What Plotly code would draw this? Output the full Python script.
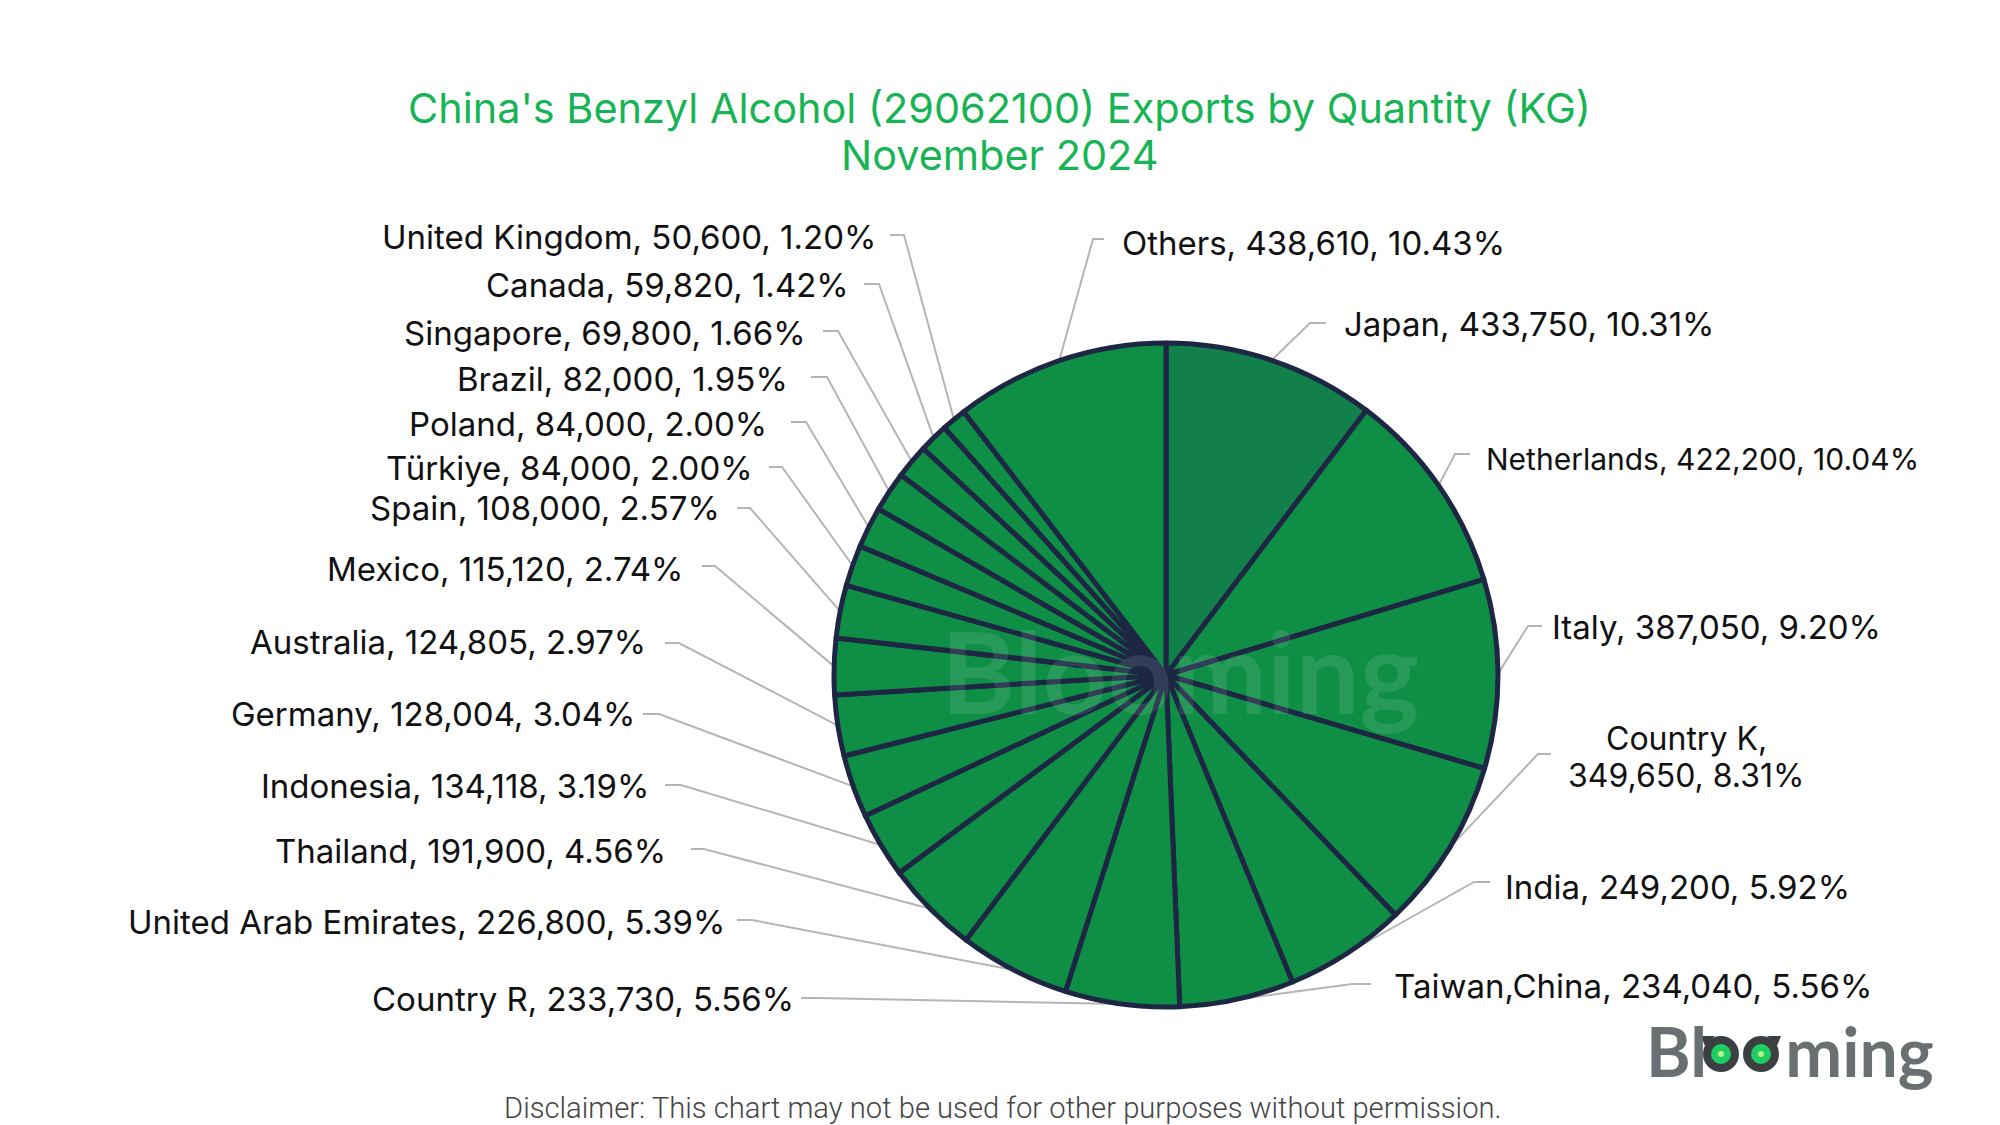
import math
import plotly.graph_objects as go

W, H = 2000, 1125

countries = ["Japan", "Netherlands", "Italy", "Country K", "India", "Taiwan,China", "Country R",
             "United Arab Emirates", "Thailand", "Indonesia", "Germany", "Australia", "Mexico",
             "Spain", "Türkiye", "Poland", "Brazil", "Singapore", "Canada", "United Kingdom", "Others"]
quantities = [433750, 422200, 387050, 349650, 249200, 234040, 233730, 226800, 191900, 134118,
              128004, 124805, 115120, 108000, 84000, 84000, 82000, 69800, 59820, 50600, 438610]
shares = [10.31, 10.04, 9.20, 8.31, 5.92, 5.56, 5.56, 5.39, 4.56, 3.19,
          3.04, 2.97, 2.74, 2.57, 2.00, 2.00, 1.95, 1.66, 1.42, 1.20, 10.43]

# label placement in page pixels: text edge x, text y, stub start x, elbow x, elbow y
label_layout = {
    "Japan": (1334, 316, 1318, 1302, 315),
    "Netherlands": (1476, 451, 1462, 1447, 446),
    "Italy": (1542, 619, 1534, 1520, 618),
    "Country K": (1678, 749, 1543, 1530, 746),
    "India": (1495, 879, 1482, 1466, 874),
    "Taiwan,China": (1384, 978, 1363, 1344, 976),
    "Country R": (788, 991, 793, 809, 990),
    "United Arab Emirates": (719, 914, 729, 744, 912),
    "Thailand": (660, 843, 683, 696, 841),
    "Indonesia": (643, 778, 657, 673, 777),
    "Germany": (630, 706, 635, 651, 706),
    "Australia": (640, 634, 657, 671, 635),
    "Mexico": (677, 561, 694, 707, 558),
    "Spain": (714, 500, 729, 742, 500),
    "Türkiye": (747, 460, 761, 774, 459),
    "Poland": (761, 416, 783, 798, 414),
    "Brazil": (782, 371, 803, 819, 369),
    "Singapore": (800, 325, 815, 830, 323),
    "Canada": (843, 277, 856, 871, 276),
    "United Kingdom": (870, 229, 882, 896, 227),
    "Others": (1112, 235, 1096, 1085, 231),
}

cx, cy, r = 1158, 667, 332
line_color = "#1d2744"
slice_colors = ["#12804a"] + ["#0f8e46"] * (len(countries) - 1)

fig = go.Figure(go.Pie(
    labels=countries,
    values=quantities,
    sort=False,
    direction="clockwise",
    rotation=0,
    textinfo="none",
    showlegend=False,
    marker=dict(colors=slice_colors, line=dict(color=line_color, width=5)),
    domain=dict(x=[(cx - r) / W, (cx + r) / W], y=[1 - (cy + r) / H, 1 - (cy - r) / H]),
))

total = sum(quantities)
running = 0
shapes = []
annotations = []


def add_text(x, y, text, font, anchor="center"):
    annotations.append(dict(x=x / W, y=1 - y / H, xref="paper", yref="paper", text=text, showarrow=False,
                            xanchor=anchor, yanchor="middle", font=font))


label_font = dict(family="Inter, sans-serif", size=33, color="#111111")
for country, qty, share in zip(countries, quantities, shares):
    mid = (running + qty / 2) / total * 2 * math.pi
    running += qty
    tx, ty, sx, ex, ey = label_layout[country]
    px, py = cx + r * math.sin(mid), cy - r * math.cos(mid)
    # leader line: stub, elbow, then down to the slice edge
    path = f"M {sx/W} {1-ey/H} L {ex/W} {1-ey/H} L {px/W} {1-py/H}"
    shapes.append(dict(type="path", xref="paper", yref="paper", path=path,
                       line=dict(color="#b5b5b5", width=2), layer="below"))
    on_right = math.sin(mid) > 0 or country == "Others"
    if country == "Country K":
        k_font = dict(label_font, size=32)
        add_text(tx, ty - 18.5, f"{country},", k_font)
        add_text(tx, ty + 18.5, f"{qty:,}, {share:.2f}%", k_font)
    elif country == "Netherlands":
        add_text(tx, ty, f"{country}, {qty:,}, {share:.2f}%", dict(label_font, size=30), "left")
    else:
        add_text(tx, ty, f"{country}, {qty:,}, {share:.2f}%", label_font, "left" if on_right else "right")

# title, disclaimer, watermark
title_font = dict(family="Inter, sans-serif", size=41.4, color="#17b455")
add_text(991, 100, "China's Benzyl Alcohol (29062100) Exports by Quantity (KG)", title_font)
add_text(991, 147, "November 2024", title_font)
add_text(994.5, 1100, "Disclaimer: This chart may not be used for other purposes without permission.",
         dict(family="Roboto, sans-serif", size=29.2, color="#444444", weight=300))
add_text(1172, 662, "Blooming", dict(family="Lato, sans-serif", size=113, color="rgba(255,255,255,0.10)", weight=700))

# logo: annotations sit over shapes, so the "oo" is see-through and the owl eyes show instead
add_text(1782, 1042, "Bl<span style='color:rgba(0,0,0,0)'>oo</span>ming",
         dict(family="Lato, sans-serif", size=68, color="#6a6f72", weight=700))
eye_y = 1046
for eye_x, ear in [(1713, -1), (1753, 1)]:
    ear_path = (f"M {(eye_x + ear * 20) / W} {1 - (eye_y - 18) / H} L {(eye_x + ear * 6) / W} {1 - (eye_y - 18) / H} "
                f"L {(eye_x + ear * 16) / W} {1 - (eye_y - 8) / H} Z")
    shapes.append(dict(type="path", xref="paper", yref="paper", layer="above", path=ear_path,
                       fillcolor="#3c3f42", line=dict(width=0)))
    for rad, col in [(18, "#3c3f42"), (10, "#1fce62"), (3, "#b6f08a")]:
        shapes.append(dict(type="circle", xref="paper", yref="paper", layer="above",
                           x0=(eye_x - rad) / W, x1=(eye_x + rad) / W,
                           y0=1 - (eye_y + rad) / H, y1=1 - (eye_y - rad) / H,
                           fillcolor=col, line=dict(width=0)))

fig.update_layout(
    width=W, height=H,
    margin=dict(l=0, r=0, t=0, b=0),
    paper_bgcolor="white",
    shapes=shapes,
    annotations=annotations,
)

fig.write_html("out.html")
